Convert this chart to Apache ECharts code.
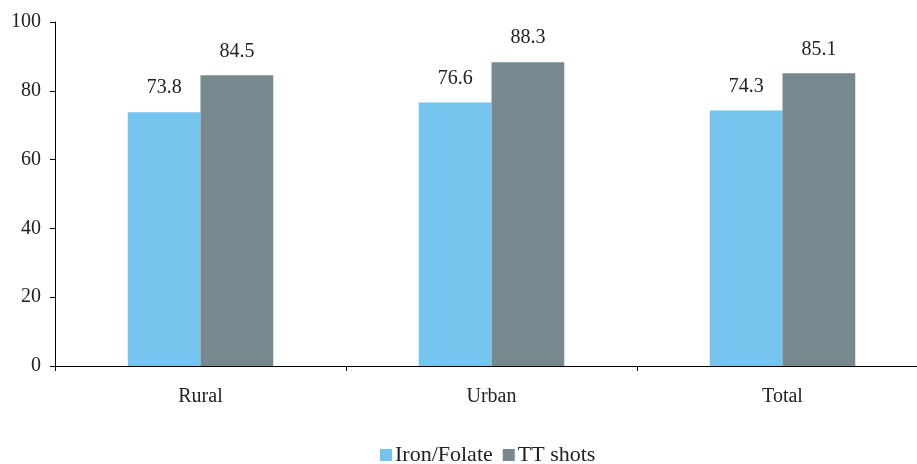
<!DOCTYPE html>
<html>
<head>
<meta charset="utf-8">
<script src="https://cdn.jsdelivr.net/npm/echarts@6/dist/echarts.min.js"></script>
<style>
html, body { margin: 0; padding: 0; background: #fff; overflow: hidden; }
#main { width: 928px; height: 464px; }
</style>
</head>
<body>
<div id="main"></div>
<script>
// 数据
var categories = ['Rural', 'Urban', 'Total'];
var ironFolate = [73.8, 76.6, 74.3];
var ttShots = [84.5, 88.3, 85.1];
var yTicks = [0, 20, 40, 60, 80, 100];

var font = 'Liberation Serif';
var txt = '#222';

// 画布比窗口宽一点，让最后一个类别的右边界落在窗口外
var chart = echarts.init(document.getElementById('main'));
var option = {
	animation: false,
	textStyle: { fontFamily: font },
	grid: {
		left: 55,
		right: 0,
		top: 22,
		bottom: 98
	},
	legend: {
		top: 444,
		left: 380,
		padding: 0,
		itemWidth: 12,
		itemHeight: 12,
		itemGap: 10,
		icon: 'rect',
		textStyle: { fontFamily: font, fontSize: 22, color: txt, padding: [0, 0, 0, -2] },
		data: ['Iron/Folate', 'TT shots']
	},
	xAxis: {
		type: 'category',
		data: categories,
		axisLine: { lineStyle: { color: '#000', width: 1 } },
		axisTick: { show: true, length: 5, lineStyle: { color: '#000' } },
		axisLabel: { fontFamily: font, fontSize: 20, color: txt, margin: 21 }
	},
	yAxis: {
		type: 'value',
		min: yTicks[0],
		max: yTicks[yTicks.length - 1],
		interval: 20,
		splitLine: { show: false },
		axisLine: { show: true, lineStyle: { color: '#000', width: 1 } },
		axisTick: { show: true, length: 5, lineStyle: { color: '#000' } },
		axisLabel: { fontFamily: font, fontSize: 20, color: txt, margin: 14 }
	},
	series: [
		{
			name: 'Iron/Folate',
			type: 'bar',
			data: ironFolate,
			barGap: '0%',
			barCategoryGap: '50%',
			itemStyle: { color: '#75C4EE' },
			label: { show: true, position: 'top', distance: 14, fontFamily: font, fontSize: 20, color: txt }
		},
		{
			name: 'TT shots',
			type: 'bar',
			data: ttShots,
			barGap: '0%',
			barCategoryGap: '50%',
			itemStyle: { color: '#78888F' },
			label: { show: true, position: 'top', distance: 14, fontFamily: font, fontSize: 20, color: txt }
		}
	]
};
chart.setOption(option);
</script>
</body>
</html>
